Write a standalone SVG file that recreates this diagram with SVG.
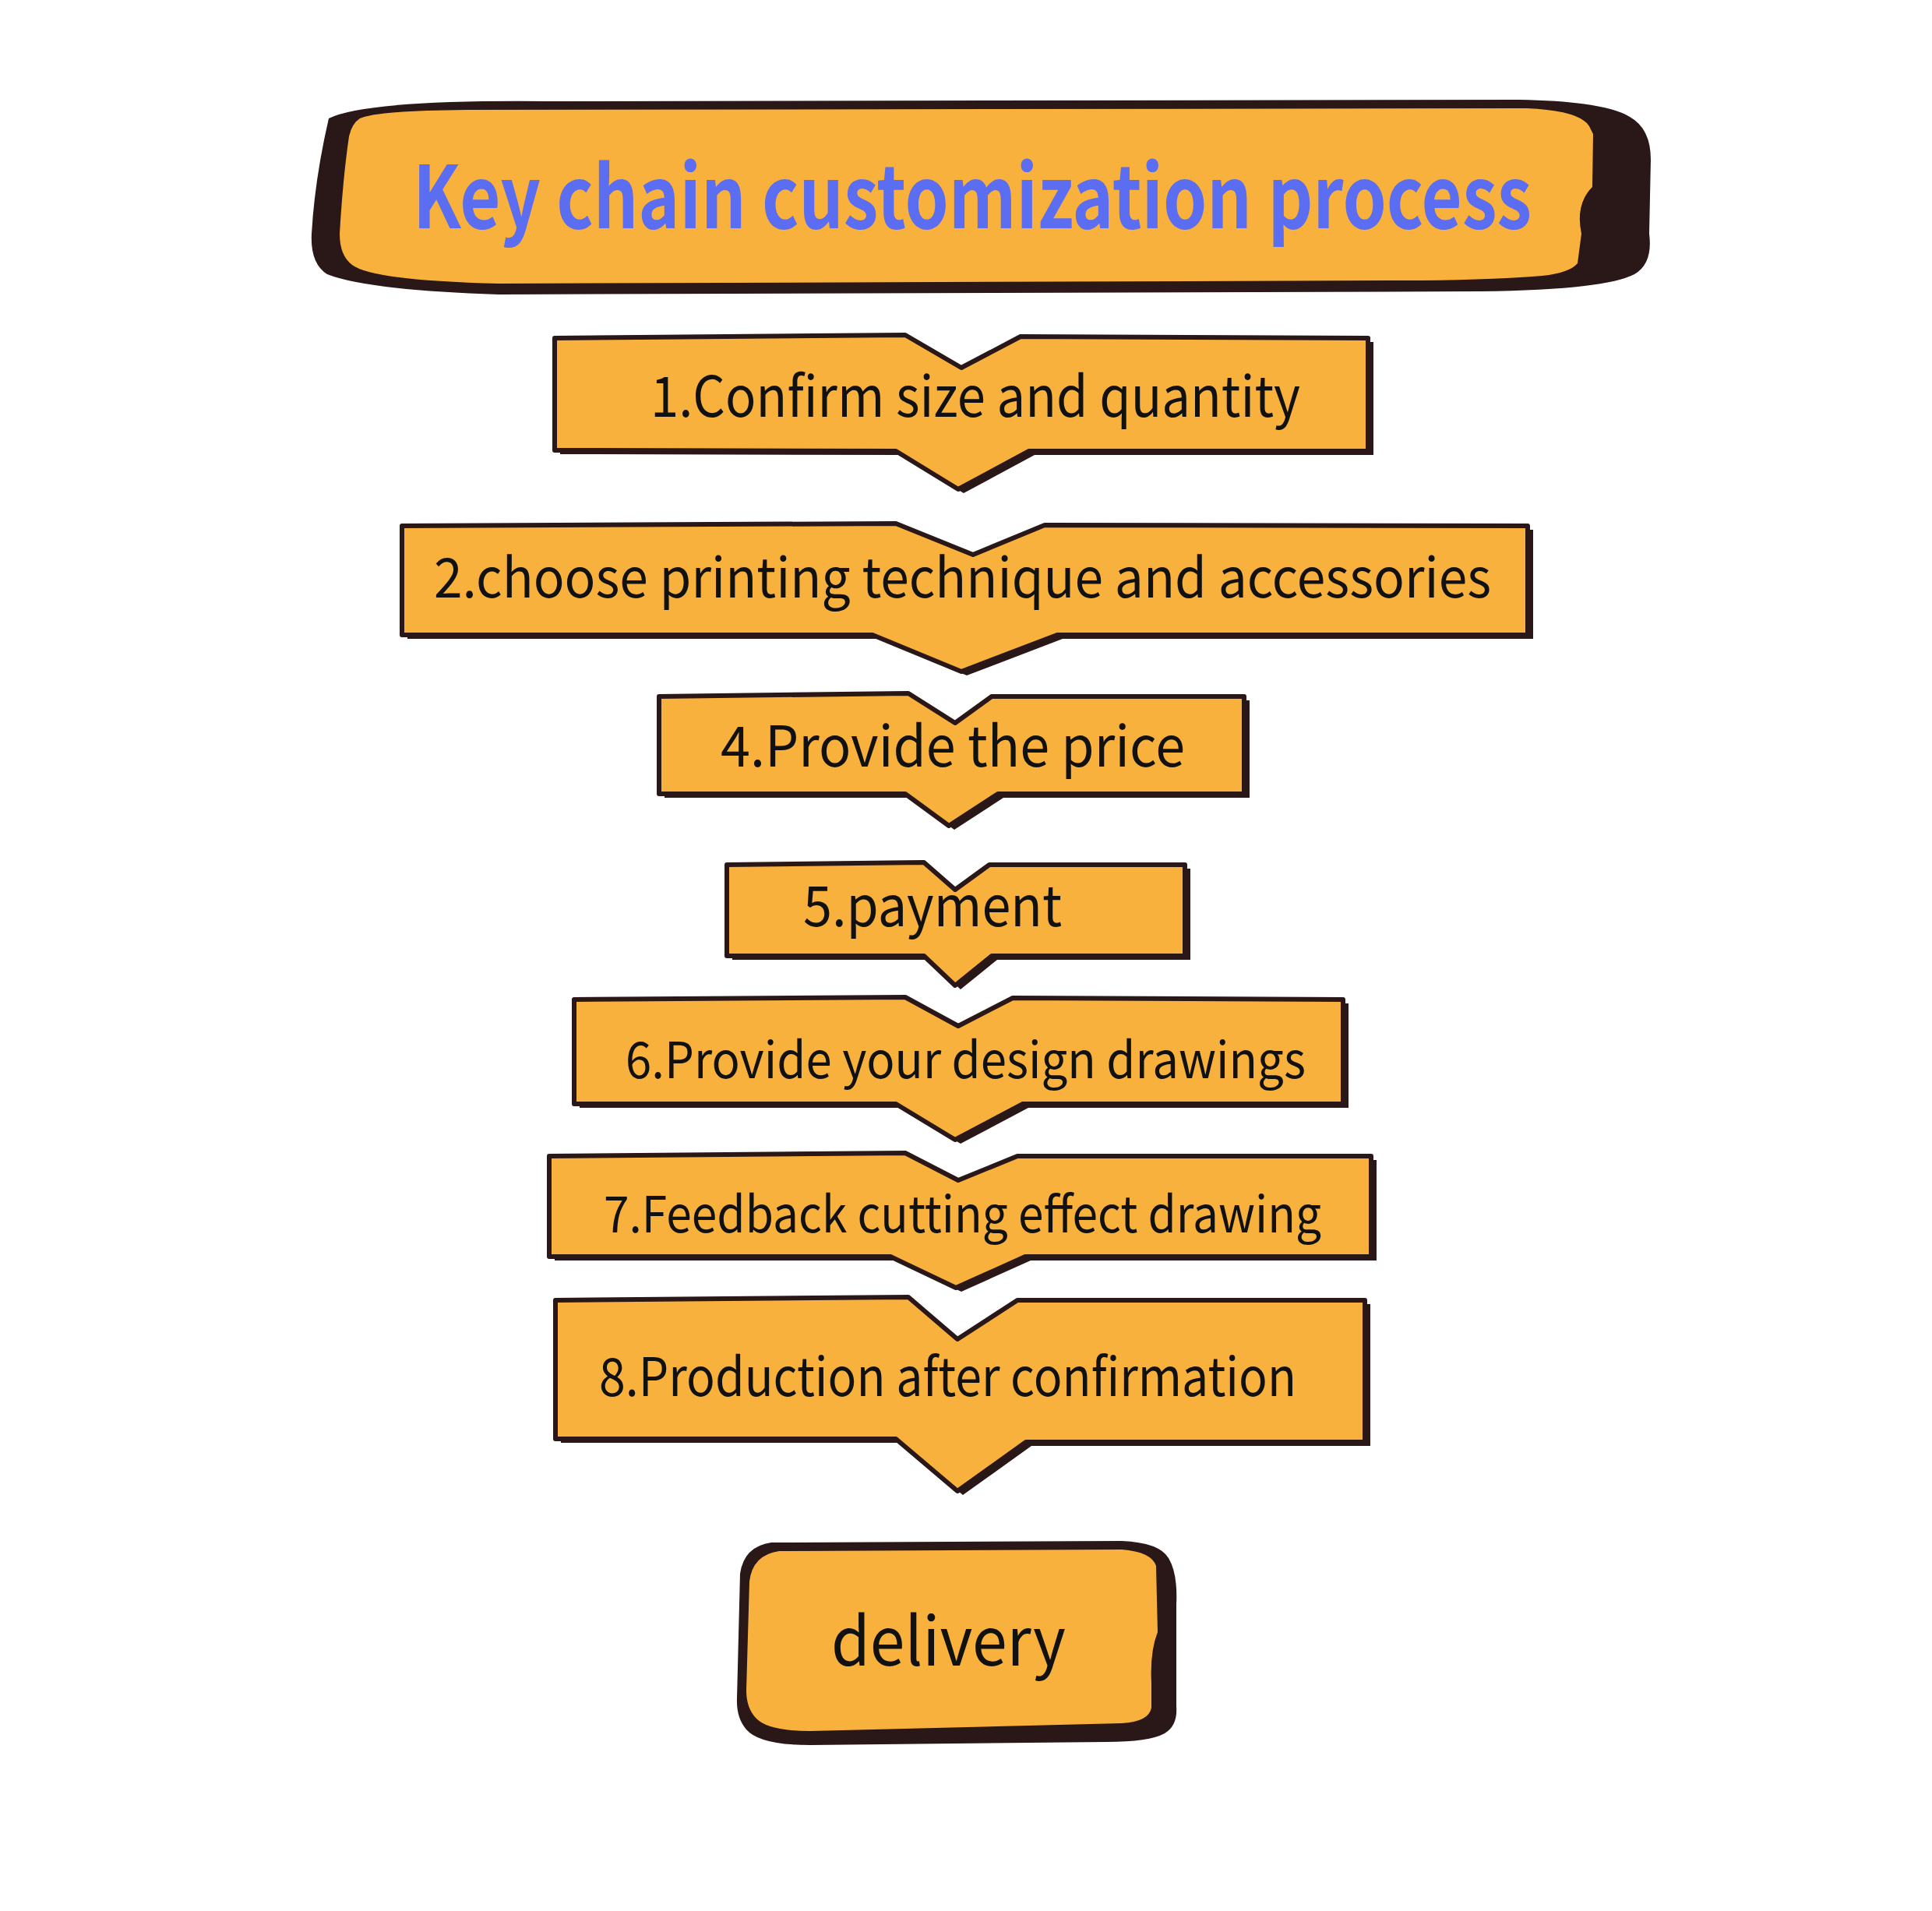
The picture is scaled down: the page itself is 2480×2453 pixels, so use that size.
<svg xmlns="http://www.w3.org/2000/svg" width="2480" height="2453" viewBox="0 0 2480 2453">
<style>
.sh{fill:#2a1717}
.bx{fill:#f8b13c;stroke:#2a1717;stroke-width:6;stroke-linejoin:round}
.t{font-family:"Noto Sans CJK SC","Noto Sans",sans-serif;fill:#111}
.title{font-family:"Noto Sans CJK SC","Noto Sans",sans-serif;font-weight:bold;fill:#5b6df0}
</style>
<rect width="2480" height="2453" fill="#ffffff"/>
<g id="title">
<path class="sh" d="M422,152 Q470,128 700,130 L1950,128 Q2060,130 2092,150 Q2119,165 2119,205 L2117,300 Q2122,338 2098,352 Q2060,372 1900,374 L640,378 Q470,372 420,352 Q398,338 400,300 Q404,230 422,152 Z"/>
<path fill="#f8b13c" d="M462,152 Q485,142 600,141 L1960,139 Q2028,142 2040,162 L2045,172 L2044,240 Q2022,262 2030,300 L2025,338 Q2015,350 1980,354 Q1900,360 1800,360 L640,364 Q478,360 452,340 Q436,328 436,300 Q440,230 448,175 Q452,158 462,152 Z"/>
<text class="title" x="530" y="293" font-size="110" textLength="1436" lengthAdjust="spacingAndGlyphs">Key chain customization process</text>
</g>
<g id="step1">
<polygon class="sh" points="719,439 1169,435 1241,477 1317,437 1763,439 1763,584 1328,584 1237,633 1157,584 719,583"/>
<polygon class="bx" points="712,434 1162,430 1234,472 1310,432 1756,434 1756,579 1321,579 1230,628 1150,579 712,578"/>
<text class="t" x="835" y="535" font-size="72" textLength="834" lengthAdjust="spacingAndGlyphs">1.Confirm size and quantity</text>
</g>
<g id="step2">
<polygon class="sh" points="523,680 1157,677 1256,717 1348,679 1968,680 1968,820 1364,820 1241,867 1127,820 523,820"/>
<polygon class="bx" points="516,675 1150,672 1249,712 1341,674 1961,675 1961,815 1357,815 1234,862 1120,815 516,815"/>
<text class="t" x="557" y="767" font-size="70" textLength="1357" lengthAdjust="spacingAndGlyphs">2.choose printing technique and accessories</text>
</g>
<g id="step4">
<polygon class="sh" points="853,899 1173,895 1233,933 1280,899 1604,899 1604,1024 1288,1024 1225,1065 1169,1024 853,1024"/>
<polygon class="bx" points="846,894 1166,890 1226,928 1273,894 1597,894 1597,1019 1281,1019 1218,1060 1162,1019 846,1019"/>
<text class="t" x="925" y="984" font-size="72" textLength="596" lengthAdjust="spacingAndGlyphs">4.Provide the price</text>
</g>
<g id="step5">
<polygon class="sh" points="940,1115 1193,1112 1233,1147 1277,1115 1528,1115 1528,1232 1280,1232 1233,1270 1193,1232 940,1232"/>
<polygon class="bx" points="933,1110 1186,1107 1226,1142 1270,1110 1521,1110 1521,1227 1273,1227 1226,1265 1186,1227 933,1227"/>
<text class="t" x="1031" y="1189" font-size="72" textLength="332" lengthAdjust="spacingAndGlyphs">5.payment</text>
</g>
<g id="step6">
<polygon class="sh" points="744,1288 1169,1285 1237,1322 1307,1286 1731,1288 1731,1422 1320,1422 1233,1468 1157,1422 744,1422"/>
<polygon class="bx" points="737,1283 1162,1280 1230,1317 1300,1281 1724,1283 1724,1417 1313,1417 1226,1463 1150,1417 737,1417"/>
<text class="t" x="803" y="1384" font-size="64" textLength="873" lengthAdjust="spacingAndGlyphs">6.Provide your design drawings</text>
</g>
<g id="step7">
<polygon class="sh" points="712,1489 1169,1485 1237,1520 1313,1489 1767,1489 1767,1618 1323,1618 1234,1658 1150,1618 712,1618"/>
<polygon class="bx" points="705,1484 1162,1480 1230,1515 1306,1484 1760,1484 1760,1613 1316,1613 1227,1653 1143,1613 705,1613"/>
<text class="t" x="775" y="1582" font-size="64" textLength="921" lengthAdjust="spacingAndGlyphs">7.Feedback cutting effect drawing</text>
</g>
<g id="step8">
<polygon class="sh" points="720,1674 1173,1670 1236,1724 1313,1674 1759,1674 1759,1856 1324,1856 1236,1919 1157,1852 720,1852"/>
<polygon class="bx" points="713,1669 1166,1665 1229,1719 1306,1669 1752,1669 1752,1851 1317,1851 1229,1914 1150,1847 713,1847"/>
<text class="t" x="769" y="1792" font-size="68" textLength="895" lengthAdjust="spacingAndGlyphs">8.Production after confirmation</text>
</g>
<g id="delivery">
<path class="sh" d="M990,1980 L1440,1978 Q1488,1980 1500,2000 Q1512,2020 1510,2060 L1510,2190 Q1512,2215 1495,2225 Q1475,2236 1420,2236 L1040,2240 Q975,2240 958,2220 Q945,2205 946,2180 L950,2020 Q955,1985 990,1980 Z"/>
<path fill="#f8b13c" d="M1000,1991 L1440,1989 Q1478,1992 1484,2010 L1486,2095 Q1476,2120 1478,2160 L1478,2192 Q1475,2210 1440,2212 L1040,2222 Q985,2222 970,2205 Q958,2192 958,2170 L962,2030 Q966,1996 1000,1991 Z"/>
<text class="t" x="1067" y="2138" font-size="86" textLength="301" lengthAdjust="spacingAndGlyphs">delivery</text>
</g>
<g id="connectors"/>
</svg>
